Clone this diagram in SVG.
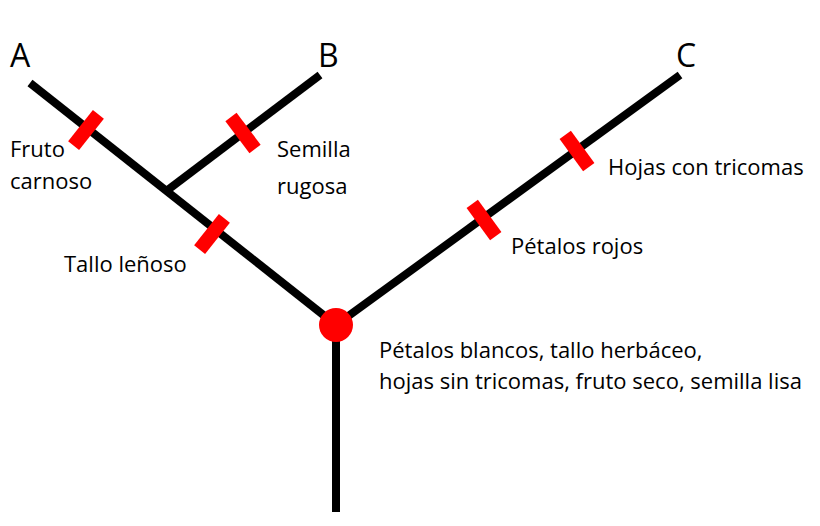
<svg xmlns="http://www.w3.org/2000/svg" width="820" height="526" viewBox="0 0 820 526">
<style>
.l{stroke:#000;stroke-width:8;fill:none;stroke-linecap:butt}
.m{fill:#f00}
.t{font-family:"Open Sans","Liberation Sans",sans-serif;font-size:22px;fill:#000}
.b{font-family:"Open Sans","Liberation Sans",sans-serif;font-size:32px;fill:#000}
</style>
<rect width="820" height="526" fill="#fff"/>
<g id="connectors">
<line class="l" x1="336" y1="325" x2="336" y2="512"/>
<line class="l" x1="336" y1="325" x2="30" y2="83"/>
<line class="l" x1="165" y1="192" x2="320" y2="75"/>
<line class="l" x1="336" y1="325" x2="680" y2="75"/>
</g>
<g id="mark-fruto"><rect class="m" x="-7" y="-20" width="14" height="40" transform="translate(86,130) rotate(38.3)"/></g>
<g id="mark-semilla"><rect class="m" x="-7" y="-20" width="14" height="40" transform="translate(243,133) rotate(-37)"/></g>
<g id="mark-tallo"><rect class="m" x="-7" y="-20" width="14" height="40" transform="translate(212,234) rotate(38.3)"/></g>
<g id="mark-petalos"><rect class="m" x="-7" y="-20" width="14" height="40" transform="translate(484,220) rotate(-36)"/></g>
<g id="mark-hojas"><rect class="m" x="-7" y="-20" width="14" height="40" transform="translate(577,151) rotate(-36)"/></g>
<g id="root"><circle class="m" cx="336" cy="325" r="17"/></g>
<g id="A"><text class="b" x="10" y="67">A</text></g>
<g id="B"><text class="b" x="318" y="67">B</text></g>
<g id="C"><text class="b" x="676" y="67">C</text></g>
<g id="labels">
<text class="t" x="10" y="157">Fruto</text>
<text class="t" x="10" y="189">carnoso</text>
<text class="t" x="277" y="157">Semilla</text>
<text class="t" x="277" y="194">rugosa</text>
<text class="t" x="64" y="272">Tallo leñoso</text>
<text class="t" x="511" y="254">Pétalos rojos</text>
<text class="t" x="608" y="175">Hojas con tricomas</text>
<text class="t" x="379" y="358">Pétalos blancos, tallo herbáceo,</text>
<text class="t" x="379" y="389">hojas sin tricomas, fruto seco, semilla lisa</text>
</g>
</svg>
